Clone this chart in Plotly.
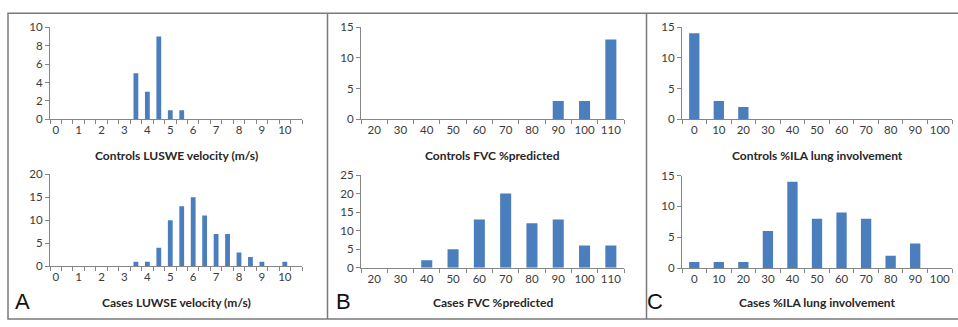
import plotly.graph_objects as go

W, H = 958, 327

# ---------------- data ----------------
vel_cats = ["0", "0.5", "1", "1.5", "2", "2.5", "3", "3.5", "4", "4.5", "5", "5.5",
            "6", "6.5", "7", "7.5", "8", "8.5", "9", "9.5", "10", "10.5"]
vel_labels = [c if "." not in c else "" for c in vel_cats]
controls_vel = [0, 0, 0, 0, 0, 0, 0, 5, 3, 9, 1, 1, 0, 0, 0, 0, 0, 0, 0, 0, 0, 0]
cases_vel = [0, 0, 0, 0, 0, 0, 0, 1, 1, 4, 10, 13, 15, 11, 7, 7, 3, 2, 1, 0, 1, 0]

fvc_cats = ["20", "30", "40", "50", "60", "70", "80", "90", "100", "110"]
controls_fvc = [0, 0, 0, 0, 0, 0, 0, 3, 3, 13]
cases_fvc = [0, 0, 2, 5, 13, 20, 12, 13, 6, 6]

ila_cats = ["0", "10", "20", "30", "40", "50", "60", "70", "80", "90", "100"]
controls_ila = [14, 3, 2, 0, 0, 0, 0, 0, 0, 0, 0]
cases_ila = [1, 1, 1, 6, 14, 8, 9, 8, 2, 4, 0]

titles = ["Controls LUSWE velocity (m/s)", "Cases LUWSE velocity (m/s)",
          "Controls FVC %predicted", "Cases FVC %predicted",
          "Controls %ILA lung involvement", "Cases %ILA lung involvement"]
panel_letters = ["A", "B", "C"]

# ---------------- layout helpers ----------------
BAR = "#4A7EBD"
AX = "#868686"
TXT = "#3b3b3b"

def px(x):
    return x / W

def py(y):
    return 1 - y / H

# (x0, x1, ytop, ybottom) in pixels
panels = [
    (50, 302, 21, 117), (50, 302, 174, 270),
    (361, 624, 21, 117), (361, 624, 175, 271.5),
    (682, 952, 21, 117), (682, 952, 175.5, 272),
]
series = [
    (vel_cats, vel_labels, controls_vel, [0, 10], 2),
    (vel_cats, vel_labels, cases_vel, [0, 20], 5),
    (fvc_cats, fvc_cats, controls_fvc, [0, 15], 5),
    (fvc_cats, fvc_cats, cases_fvc, [0, 25], 5),
    (ila_cats, ila_cats, controls_ila, [0, 15], 5),
    (ila_cats, ila_cats, cases_ila, [0, 15], 5),
]

fig = go.Figure()
layout = dict(
    width=W, height=H,
    margin=dict(l=0, r=0, t=0, b=0),
    paper_bgcolor="white", plot_bgcolor="white",
    showlegend=False, bargap=0.58,
    font=dict(family="Lato, Open Sans, sans-serif", size=11.5, color=TXT),
)
annotations = []
for i, ((x0, x1, yt, yb), (cats, labels, vals, yr, dt)) in enumerate(zip(panels, series)):
    n = "" if i == 0 else str(i + 1)
    fig.add_trace(go.Bar(x=cats, y=vals, marker=dict(color=BAR, line=dict(width=0)),
                         xaxis="x" + n, yaxis="y" + n, hoverinfo="x+y"))
    layout["xaxis" + n] = dict(
        domain=[px(x0), px(x1)], anchor="y" + n, type="category",
        categoryorder="array", categoryarray=cats,
        tickmode="array", tickvals=cats, ticktext=labels, tickangle=0,
        tickson="boundaries", ticks="outside", ticklen=4, tickcolor=AX,
        showline=True, linecolor=AX, linewidth=1, showgrid=False,
        ticklabeloverflow="allow",
        tickfont=dict(size=11.5, color=TXT), fixedrange=True,
    )
    layout["yaxis" + n] = dict(
        domain=[py(yb), py(yt)], anchor="x" + n, range=yr, dtick=dt,
        ticks="outside", ticklen=4, tickcolor=AX, showline=True, linecolor=AX,
        linewidth=1, showgrid=False, zeroline=False,
        tickfont=dict(size=11.5, color=TXT), fixedrange=True,
    )
    ty = 155 if i % 2 == 0 else 308
    annotations.append(dict(
        x=px((x0 + x1) / 2), y=py(ty), xref="paper", yref="paper",
        text="<b>" + titles[i] + "</b>", showarrow=False,
        font=dict(size=12, color="#262626"), xanchor="center", yanchor="middle",
    ))

for letter, lx in zip(panel_letters, [22, 343, 655]):
    annotations.append(dict(
        x=px(lx), y=py(307), xref="paper", yref="paper", text=letter,
        showarrow=False, font=dict(size=22, color="#111111", family="Liberation Sans, Arial"),
        xanchor="center", yanchor="middle",
    ))

shapes = [
    dict(type="rect", xref="paper", yref="paper", x0=px(8), x1=px(962), y0=py(325), y1=py(6.5),
         line=dict(color="#7a7a7a", width=1.5)),
    dict(type="line", xref="paper", yref="paper", x0=px(327.5), x1=px(327.5), y0=py(325), y1=py(6.5),
         line=dict(color="#7a7a7a", width=1.5)),
    dict(type="line", xref="paper", yref="paper", x0=px(646.5), x1=px(646.5), y0=py(325), y1=py(6.5),
         line=dict(color="#7a7a7a", width=1.5)),
]
layout["annotations"] = annotations
layout["shapes"] = shapes
fig.update_layout(**layout)
fig.write_html("out.html", config={"displayModeBar": False},
               post_script="document.body.style.margin='0';document.body.style.overflow='hidden';")
